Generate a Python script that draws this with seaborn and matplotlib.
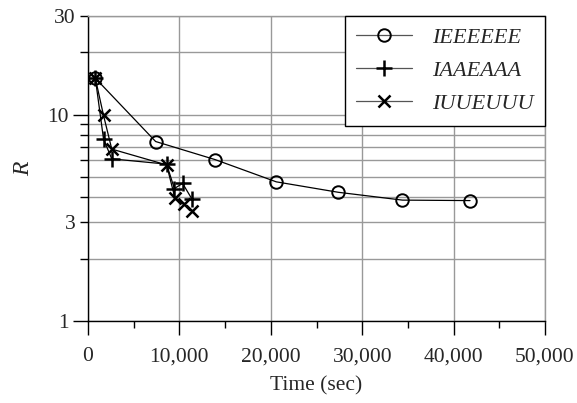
import numpy as np
import pandas as pd
import matplotlib
matplotlib.use('Agg')
import matplotlib.pyplot as plt
import seaborn as sns
from matplotlib.ticker import FixedLocator, FuncFormatter

# Data (time in seconds, R on a log scale)
series_names = ['IEEEEEE', 'IAAEAAA', 'IUUEUUU']

time_ieeeeee = [800, 7400, 13900, 20600, 27400, 34400, 41800]
r_ieeeeee = [15.0, 7.4, 6.05, 4.72, 4.2, 3.85, 3.83]

time_iaaeaaa = [800, 1700, 2600, 8600, 9450, 10350, 11350]
r_iaaeaaa = [15.0, 7.6, 6.1, 5.75, 4.38, 4.64, 3.91]

time_iuueuuu = [800, 1700, 2600, 8600, 9500, 10500, 11350]
r_iuueuuu = [15.0, 9.9, 6.8, 5.7, 3.96, 3.67, 3.41]

x_ticks = [0, 10000, 20000, 30000, 40000, 50000]
x_minor = [5000, 15000, 25000, 35000, 45000]
y_major = [1, 10]
y_minor = [2, 3, 4, 5, 6, 7, 8, 9, 20, 30]
y_labeled = [1, 3, 10, 30]

sns.set_style('white')
plt.rcParams['font.family'] = ['Liberation Serif', 'DejaVu Serif']

fig = plt.figure(figsize=(5.77, 4.03), dpi=100)
ax = fig.add_axes([88 / 577, 1 - 321 / 403, 457 / 577, 305 / 403])

styles = [
    dict(marker='o', markersize=9, markerfacecolor='none', markeredgecolor='black',
         markeredgewidth=1.4),
    dict(marker='+', markersize=11, markeredgecolor='black', markeredgewidth=1.8),
    dict(marker='x', markersize=9, markeredgecolor='black', markeredgewidth=1.8),
]
data = [(time_ieeeeee, r_ieeeeee), (time_iaaeaaa, r_iaaeaaa), (time_iuueuuu, r_iuueuuu)]

for name, (t, r), st in zip(series_names, data, styles):
    df = pd.DataFrame({'time': t, 'R': r})
    sns.lineplot(data=df, x='time', y='R', ax=ax, sort=False, estimator=None,
                 color='black', linewidth=0.9, label=name, **st)

ax.set_yscale('log')
ax.set_xlim(0, 50000)
ax.set_ylim(1, 30)

ax.xaxis.set_major_locator(FixedLocator(x_ticks))
ax.xaxis.set_minor_locator(FixedLocator(x_minor))
ax.xaxis.set_major_formatter(FuncFormatter(lambda v, p: f'{int(v):,}'))

ax.yaxis.set_major_locator(FixedLocator(y_major))
ax.yaxis.set_minor_locator(FixedLocator(y_minor))
ax.yaxis.set_major_formatter(FuncFormatter(lambda v, p: f'{v:g}'))
ax.yaxis.set_minor_formatter(FuncFormatter(lambda v, p: f'{v:g}' if v in y_labeled else ''))

ax.grid(True, which='major', axis='x', color='#999999', linewidth=1)
ax.grid(True, which='both', axis='y', color='#999999', linewidth=1)
ax.set_axisbelow(True)

for side in ['top', 'right']:
    ax.spines[side].set_color('#999999')
    ax.spines[side].set_linewidth(1)
for side in ['left', 'bottom']:
    ax.spines[side].set_color('black')
    ax.spines[side].set_linewidth(1)

ax.tick_params(axis='x', which='major', direction='out', length=10, width=1,
               color='black', labelsize=15.5, pad=9, bottom=True)
ax.tick_params(axis='x', which='minor', direction='out', length=5, width=1,
               color='black', bottom=True)
ax.tick_params(axis='y', which='major', direction='out', length=11, width=1,
               color='black', labelsize=15.5, pad=3, left=True)
ax.tick_params(axis='y', which='minor', direction='out', length=6, width=1,
               color='black', labelsize=15.5, pad=3, left=True)

ax.set_xlabel('Time (sec)', fontsize=15.5, labelpad=7)
ax.set_ylabel('R', fontsize=17, fontstyle='italic', labelpad=9)

leg = ax.legend(loc='upper right', bbox_to_anchor=(1.0, 1.0), frameon=True, fancybox=False,
                edgecolor='black', framealpha=1, borderaxespad=0, handlelength=2.5,
                handletextpad=0.9, labelspacing=0.56, borderpad=0.52,
                prop={'size': 16, 'style': 'italic'})
leg.get_frame().set_linewidth(1)
for line in leg.get_lines():
    line.set_color('#555555')
    line.set_markeredgecolor('black')

fig.savefig('out.png', dpi=100)
